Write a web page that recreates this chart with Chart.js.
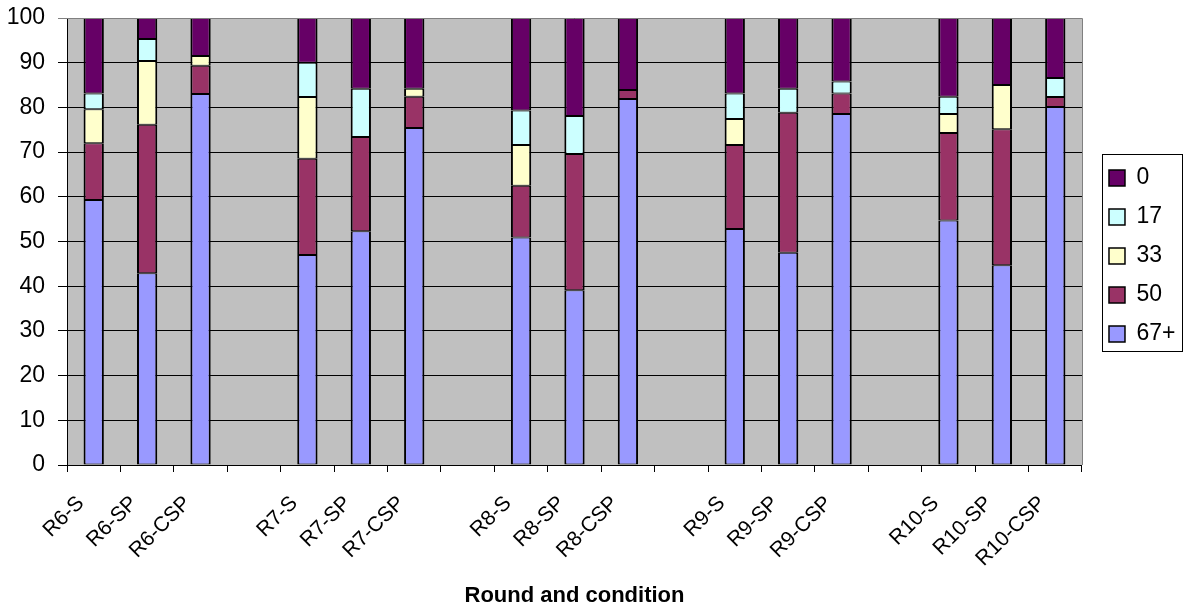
<!DOCTYPE html>
<html>
<head>
<meta charset="utf-8">
<script src="https://cdn.jsdelivr.net/npm/chart.js@4"></script>
<style>
  html, body { margin: 0; padding: 0; background: #fff; }
  #wrap { width: 1187px; height: 612px; position: relative; }
</style>
</head>
<body>
<div id="wrap"><canvas id="chart"></canvas></div>
<script>
const categories = ["R6-S", "R6-SP", "R6-CSP", "",
                    "R7-S", "R7-SP", "R7-CSP", "",
                    "R8-S", "R8-SP", "R8-CSP", "",
                    "R9-S", "R9-SP", "R9-CSP", "",
                    "R10-S", "R10-SP", "R10-CSP"];

const series67 = [59.3, 42.9, 83.0, null, 47.0, 52.3, 75.4, null, 50.9, 39.1, 81.9, null, 52.8, 47.5, 78.5, null, 54.7, 44.7, 80.1];
const series50 = [12.7, 33.2,  6.3, null, 21.5, 21.1,  7.0, null, 11.6, 30.5,  2.0, null, 18.8, 31.3,  4.6, null, 19.6, 30.4,  2.2];
const series33 = [ 7.6, 14.3,  2.2, null, 13.8,  0.0,  1.8, null,  9.1,  0.0,  0.0, null,  5.8,  0.0,  0.0, null,  4.2,  9.9,  0.0];
const series17 = [ 3.5,  4.9,  0.0, null,  7.7, 10.8,  0.0, null,  7.7,  8.5,  0.0, null,  5.7,  5.4,  2.7, null,  3.9,  0.0,  4.3];
const series0  = [16.9,  4.7,  8.5, null, 10.0, 15.8, 15.8, null, 20.7, 21.9, 16.1, null, 16.9, 15.8, 14.2, null, 17.6, 15.0, 13.4];

const yTicks = [0, 10, 20, 30, 40, 50, 60, 70, 80, 90, 100];

const FONT = "'Liberation Sans', Arial, sans-serif";
Chart.defaults.font.family = FONT;
Chart.defaults.color = "#000";

function makeSet(label, data, color) {
  return {
    label: label,
    data: data,
    backgroundColor: color,
    borderColor: "#000",
    borderWidth: { left: 2, right: 2, top: 1, bottom: 1 },
    borderSkipped: false,
    inflateAmount: 0,
    barPercentage: 0.38,
    categoryPercentage: 1.0
  };
}

// grey plot area, grey top/right frame, box round the legend
const frame = {
  id: "frame",
  beforeDraw(chart) {
    const a = chart.chartArea, ctx = chart.ctx;
    ctx.save();
    ctx.fillStyle = "#C0C0C0";
    ctx.fillRect(a.left, a.top, a.right - a.left, a.bottom - a.top);
    ctx.restore();
  },
  afterDraw(chart) {
    const a = chart.chartArea, ctx = chart.ctx;
    ctx.save();
    ctx.strokeStyle = "#808080";
    ctx.lineWidth = 1;
    ctx.beginPath();
    ctx.moveTo(a.left, Math.round(a.top) + 0.5);
    ctx.lineTo(Math.round(a.right) + 0.5, Math.round(a.top) + 0.5);
    ctx.lineTo(Math.round(a.right) + 0.5, a.bottom);
    ctx.stroke();

    const hb = chart.legend.legendHitBoxes;
    if (hb && hb.length) {
      const x1 = Math.round(hb[0].left - 7) + 0.5;
      const y1 = Math.round(hb[0].top - 12) + 0.5;
      const last = hb[hb.length - 1];
      const y2 = Math.round(last.top + last.height + 6) + 0.5;
      ctx.strokeStyle = "#000";
      ctx.strokeRect(x1, y1, 80, y2 - y1);
    }
    ctx.restore();
  }
};

new Chart(document.getElementById("chart"), {
  type: "bar",
  data: {
    labels: categories,
    datasets: [
      makeSet("67+", series67, "#9999FF"),
      makeSet("50",  series50, "#993366"),
      makeSet("33",  series33, "#FFFFCC"),
      makeSet("17",  series17, "#CCFFFF"),
      makeSet("0",   series0,  "#660066")
    ]
  },
  options: {
    responsive: true,
    maintainAspectRatio: false,
    animation: false,
    layout: { padding: { top: 18, left: 0, right: 1.5, bottom: 0 } },
    plugins: {
      tooltip: { enabled: false },
      legend: {
        position: "right",
        fullSize: false,
        reverse: true,
        title: { display: true, text: " ", padding: 0, font: { size: 24 } },
        labels: {
          boxWidth: 16,
          boxHeight: 16,
          padding: 16,
          color: "#000",
          font: { size: 23 }
        }
      }
    },
    scales: {
      x: {
        stacked: true,
        grid: { drawOnChartArea: false, drawTicks: true, tickLength: 7, color: "#000", offset: true },
        border: { color: "#000" },
        ticks: {
          autoSkip: false,
          minRotation: 45,
          maxRotation: 45,
          padding: 19,
          labelOffset: -13,
          color: "#000",
          font: { size: 21 }
        },
        title: {
          display: true,
          text: "Round and condition",
          color: "#000",
          font: { size: 22, weight: "bold" },
          padding: { top: 4, bottom: 3 }
        },
        afterFit(s) { s.height = 147; s.paddingLeft = 0; s.paddingRight = 0; }
      },
      y: {
        stacked: true,
        min: 0,
        max: 100,
        afterBuildTicks(s) { s.ticks = yTicks.map(v => ({ value: v })); },
        grid: {
          color: ctx => (ctx.tick && ctx.tick.value === 100 ? "#808080" : "#000"),
          tickLength: 9
        },
        border: { color: "#000" },
        ticks: { padding: 13, color: "#000", font: { size: 23 } },
        afterFit(s) { s.width = 67; s.paddingTop = 0; s.paddingBottom = 0; }
      },
      yR: {
        type: "linear",
        position: "right",
        display: true,
        grid: { display: false },
        border: { display: false },
        ticks: { display: false },
        afterFit(s) { s.width = 11; }
      }
    }
  },
  plugins: [frame]
});
</script>
</body>
</html>
